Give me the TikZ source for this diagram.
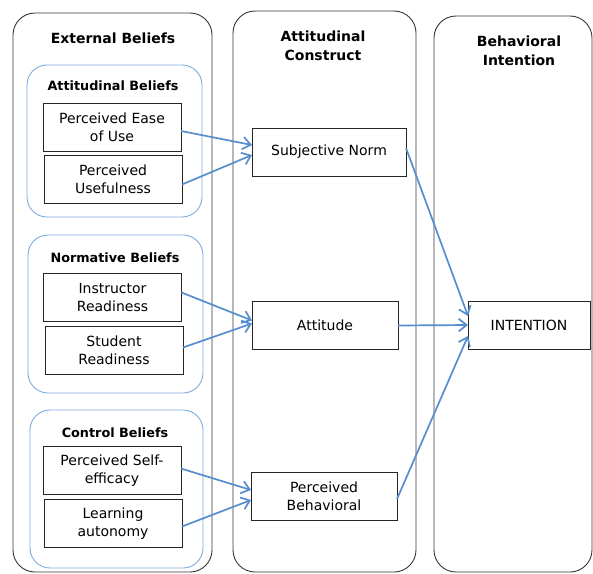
\documentclass[tikz,border=0pt]{standalone}
\usepackage{fontspec}
\setsansfont{DejaVu Sans}
\usetikzlibrary{arrows.meta}
\definecolor{linkblue}{RGB}{86,142,205}
\definecolor{groupblue}{RGB}{125,170,220}
\definecolor{colgray}{RGB}{55,55,55}
\tikzset{%
  >={Straight Barb[length=2.8mm,width=4.4mm]},
  % Specifications for style of nodes:
        column/.style = {rectangle, rounded corners=22pt, draw=colgray,
                         line width=0.9pt, inner sep=0pt, outer sep=0pt},
         group/.style = {rectangle, rounded corners=20pt, draw=groupblue,
                         line width=0.9pt, inner sep=0pt, outer sep=0pt},
        factor/.style = {rectangle, draw=black!85, line width=0.8pt,
                         minimum width=138pt, minimum height=48pt,
                         inner sep=0pt, outer sep=0pt, align=center,
                         font=\sffamily\fontsize{14}{18}\selectfont},
     construct/.style = {factor, minimum width=146pt},
      coltitle/.style = {align=center, font=\sffamily\bfseries\fontsize{14}{19}\selectfont},
    grouptitle/.style = {font=\sffamily\bfseries\fontsize{12.8}{14}\selectfont},
          link/.style = {->, draw=linkblue, line width=1.7pt}
}

\begin{document}
\begin{tikzpicture}[x=1pt, y=-1pt]
  \useasboundingbox (0,0) rectangle (593,573);

  % three columns
  \node (external) [column, minimum width=199pt, minimum height=559pt] at (112.5,292.5) {};
  \node (attcons)  [column, minimum width=183pt, minimum height=561pt] at (324.5,291.5) {};
  \node (behint)   [column, minimum width=158pt, minimum height=556pt] at (513,294) {};
  \node (externalT) [coltitle] at (113,38)  {External Beliefs};
  \node (attconsT)  [coltitle] at (323,46)  {Attitudinal\\Construct};
  \node (behintT)   [coltitle] at (519,51)  {Behavioral\\Intention};

  % belief groups
  \node (attbel)  [group, minimum width=175pt, minimum height=152pt] at (114.5,141) {};
  \node (normbel) [group, minimum width=175pt, minimum height=158pt] at (115.5,314) {};
  \node (ctrlbel) [group, minimum width=173pt, minimum height=158pt] at (116.5,489) {};
  \node (attbelT)  [grouptitle] at (113,86)  {Attitudinal Beliefs};
  \node (normbelT) [grouptitle] at (115,258) {Normative Beliefs};
  \node (ctrlbelT) [grouptitle] at (115,433) {Control Beliefs};

  \node (ease)    [factor] at (112,127)   {Perceived Ease\\of Use};
  \node (useful)  [factor] at (113,179.5) {Perceived\\Usefulness};
  \node (instr)   [factor] at (112.5,297.5) {Instructor\\Readiness};
  \node (student) [factor] at (114,350.5) {Student\\Readiness};
  \node (selfeff) [factor] at (112,470.5) {Perceived Self-\\efficacy};
  \node (autonomy)[factor] at (113,523.5) {Learning\\autonomy};

  \node (norm)      [construct, minimum width=154pt] at (329,152) {Subjective Norm};
  \node (attitude)  [construct] at (325,325.5) {Attitude};
  \node (behav)     [construct] at (324,496)   {Perceived\\Behavioral};
  \node (intention) [construct, minimum width=122pt] at (529,325) {INTENTION};

    \draw[link] ([yshift=-4pt]ease.east)     -- ([yshift=7pt]norm.west);
    \draw[link] ([yshift=-5pt]useful.east)   -- ([yshift=-3pt]norm.west);
    \draw[link] ([yshift=5pt]instr.east)     -- ([yshift=5pt]attitude.west);
    \draw[link] ([yshift=3pt]student.east)   -- ([yshift=2pt]attitude.west);
    \draw[link] ([yshift=2pt]selfeff.east)   -- ([yshift=6pt]behav.west);
    \draw[link] ([yshift=-3pt]autonomy.east) -- ([yshift=-4pt]behav.west);
    \draw[link] ([yshift=4pt]norm.east)      -- ([yshift=9pt]intention.west);
    \draw[link] (attitude.east)              -- (intention.west);
    \draw[link] ([yshift=-3pt]behav.east)    -- ([yshift=-11pt]intention.west);
\end{tikzpicture}
\end{document}
